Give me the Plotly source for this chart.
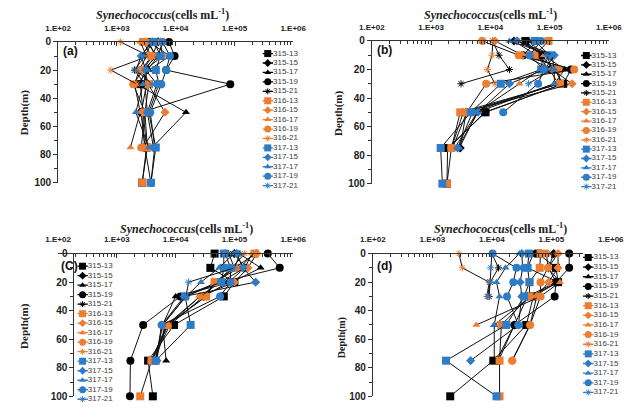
import plotly.graph_objects as go

# ---------------- data ----------------
DEPTHS = [0, 10, 20, 30, 50, 75, 100]
SERIES = ["315-13", "315-15", "315-17", "315-19", "315-21",
          "316-13", "316-15", "316-17", "316-19", "316-21",
          "317-13", "317-15", "317-17", "317-19", "317-21"]
X_TICK_VALS = [1e2, 1e3, 1e4, 1e5, 1e6]
X_TICK_TEXT = ["1.E+02", "1.E+03", "1.E+04", "1.E+05", "1.E+06"]
DEPTH_TICKS = [0, 20, 40, 60, 80, 100]
PANEL_LABELS = ["(a)", "(b)", "(C)", "(d)"]
N = None

# cells mL-1, one row per series, columns follow DEPTHS
VALUES_A = [
    [3.5e3, 4.5e3, 3.0e3, 2.5e3, 2.8e3, 3.2e3, 2.7e3],
    [5.0e3, 4.0e3, 2.8e3, 3.2e3, 2.6e3, 3.0e3, N],
    [3.5e3, 8.0e3, 3.5e3, 2.2e3, 1.5e4, 4.0e3, N],
    [7.7e3, 9.6e3, 6.9e3, 8.5e4, 2.6e3, 3.0e3, 3.8e3],
    [4.0e3, 3.0e3, 2.0e3, 3.0e3, 3.3e3, N, N],
    [2.8e3, 3.9e3, 2.6e3, 3.5e3, 3.0e3, 3.3e3, 2.7e3],
    [5.5e3, 6.0e3, 3.0e3, 3.4e3, 6.6e3, 2.8e3, N],
    [2.5e3, 3.2e3, 2.4e3, 2.0e3, 2.5e3, 1.7e3, N],
    [3.2e3, 4.8e3, 2.8e3, 1.9e3, 3.0e3, 2.6e3, N],
    [1.15e3, 3.5e3, 7.9e2, 2.2e3, N, N, N],
    [4.3e3, 5.5e3, 4.6e3, 5.2e3, 3.5e3, 4.6e3, 3.8e3],
    [4.0e3, 2.6e3, 3.1e3, 4.8e3, 3.3e3, 4.2e3, N],
    [6.0e3, 5.0e3, 3.3e3, 2.8e3, 2.1e3, 3.5e3, N],
    [6.0e3, 8.0e3, 6.9e3, 5.7e3, 3.7e3, 4.4e3, 3.8e3],
    [3.8e3, 2.6e3, 2.1e3, 4.0e3, N, N, N],
]
VALUES_B = [
    [3.9e4, 7.2e4, 1.2e5, 1.7e5, 8.3e3, 1.9e3, 1.85e3],
    [2.5e4, 6.0e4, 1.0e5, 1.4e5, 3.9e3, 3.1e3, N],
    [4.5e4, 8.0e4, 1.8e5, 1.2e5, 5.0e3, 2.8e3, N],
    [6.0e4, 3.6e4, 2.3e5, 1.7e5, 8.0e3, 2.0e3, N],
    [1.1e4, 1.4e4, 2.1e4, 3.2e3, N, N, N],
    [9.6e4, 5.6e4, 1.4e5, 1.5e5, 3.1e3, 2.2e3, 1.85e3],
    [1.2e4, 3.5e4, 1.1e5, 2.4e5, 3.5e3, 2.2e3, N],
    [3.0e4, 8.0e4, 7.0e4, 3.1e4, 6.0e3, 2.5e3, N],
    [7.3e3, 3.0e4, 2.6e5, 8.5e3, 4.0e3, 2.3e3, N],
    [1.1e4, 1.07e4, 8.9e3, 1.2e4, N, N, N],
    [5.6e4, 1.0e5, 7.2e4, 1.5e4, 4.7e3, 1.45e3, 1.55e3],
    [2.8e4, 1.2e5, 8.3e4, 2.1e4, 6.2e3, 2.8e3, N],
    [2.1e4, 1.1e5, 1.2e5, 1.2e5, 6.0e3, 3.0e3, N],
    [7.2e4, 4.6e4, 8.0e4, 6.4e4, 1.65e4, N, N],
    [2.9e4, 9.0e4, 1.1e5, 4.4e4, N, N, N],
]
VALUES_C = [
    [4.6e4, 3.9e4, 1.0e5, 6.6e4, 9.4e3, 3.4e3, 4.1e3],
    [1.0e5, 1.5e5, 8.0e4, 3.0e4, 8.0e3, 4.0e3, N],
    [1.2e5, 2.8e5, 9.0e4, 1.0e4, 6.0e3, 6.9e3, N],
    [3.7e5, 5.9e5, 6.0e4, 1.2e4, 2.8e3, 1.7e3, 1.67e3],
    [8.0e4, 1.0e5, 5.0e4, 1.5e4, 6.0e3, N, N],
    [2.2e5, 1.2e5, 4.6e4, 3.3e4, 7.3e3, 3.9e3, 2.5e3],
    [2.4e5, 1.7e5, 1.0e5, 2.6e4, 7.0e3, 4.5e3, N],
    [2.0e5, 1.5e5, 5.8e4, 2.6e4, 7.5e3, 3.8e3, N],
    [2.3e5, 1.0e5, 4.6e4, 3.3e4, 7.0e3, 3.9e3, N],
    [1.5e5, 9.0e4, 5.0e4, 2.8e4, N, N, N],
    [6.6e4, 6.6e4, 6.0e4, 1.45e4, 1.8e4, 4.6e3, N],
    [1.1e5, 1.4e5, 2.3e5, 1.4e4, 5.8e3, 4.8e3, N],
    [9.8e4, 5.5e4, 2.7e4, 1.5e4, 6.0e3, 4.5e3, N],
    [7.0e4, 8.6e4, 8.6e4, 5.7e4, 5.8e3, 4.6e3, N],
    [1.25e5, 1.0e5, 1.66e4, 1.5e4, N, N, N],
]
VALUES_D = [
    [6.0e4, 1.2e5, 1.3e5, 5.0e4, 3.8e4, 1.06e4, 2.0e3],
    [1.1e5, 9.0e4, 1.2e5, 4.0e4, 2.4e4, 1.2e4, N],
    [5.0e4, 4.0e4, 1.3e5, 4.5e4, 1.1e4, 1.1e4, N],
    [2.0e5, 2.0e5, 1.2e5, 1.14e5, 2.4e4, 1.3e4, N],
    [1.0e4, 1.3e4, 9.4e3, 9.0e3, N, N, N],
    [6.6e4, 6.4e4, 4.3e4, 4.3e4, 1.45e4, 1.35e4, 1.35e4],
    [1.3e5, 1.3e5, 9.0e4, 5.7e4, 4.4e4, 2.2e4, N],
    [1.3e5, 8.8e4, 1.4e5, 6.6e4, 5.5e3, N, N],
    [8.3e4, 8.8e4, 6.6e4, 6.6e4, 4.4e4, 2.2e4, N],
    [2.8e3, 3.2e3, 9.0e3, 8.3e3, N, N, N],
    [4.2e4, 4.0e4, 4.3e4, 3.5e4, 1.75e4, 1.7e3, 1.2e4],
    [3.2e4, 3.3e4, 3.0e4, 3.2e4, 2.8e4, 4.4e3, N],
    [2.9e4, 1.7e4, 1.2e4, 1.35e4, 1.1e4, N, N],
    [1.03e4, 2.6e4, 2.3e4, 1.8e4, 2.8e4, N, N],
    [1.0e4, 9.6e3, 9.4e3, 8.5e3, N, N, N],
]
PANEL_VALUES = [VALUES_A, VALUES_B, VALUES_C, VALUES_D]

# ---------------- styles ----------------
W, H = 642, 413
COLORS = {"315": "#000000", "316": "#ED7D31", "317": "#2E7CC6"}
SYMBOLS = {"13": ("square", 8), "15": ("diamond", 7), "17": ("triangle-up", 7),
           "19": ("circle", 8), "21": ("asterisk-open", 6)}
LEG_W = 40


def fx(px):
    return min(max(px / W, 0), 1)


def fy(py):
    return min(max(1 - py / H, 0), 1)


# panel layout in pixels
PANELS = [
    dict(x0=47, x1=292, yt=37, yb=182, ypos=47, lx=260, ly0=49, ly1=185,
         tx=156, ty=9, dx=12, dy=110, dsize=11, plx=50, ply=46),
    dict(x0=374, x1=621, yt=36, yb=183, ypos=374, lx=592, ly0=51, ly1=186,
         tx=498, ty=9, dx=340, dy=110, dsize=11, plx=377, ply=45),
    dict(x0=47, x1=292, yt=255, yb=402, ypos=63, lx=67, ly0=268, ly1=405,
         tx=181, ty=229, dx=12, dy=330, dsize=11, plx=48, ply=268),
    dict(x0=375, x1=623, yt=255, yb=402, ypos=375, lx=594, ly0=259, ly1=398,
         tx=508, ty=229, dx=343, dy=342, dsize=10, plx=377, ply=268),
]

fig = go.Figure()
layout = dict(width=W, height=H, margin=dict(l=0, r=0, t=0, b=0),
              paper_bgcolor="white", plot_bgcolor="white", showlegend=False)
annotations = []

minor_vals = [m * 10 ** e for e in range(2, 6) for m in range(2, 10)]
tick_font = dict(family="Liberation Sans", size=8, color="#222222", weight="bold")

for i, p in enumerate(PANELS):
    n = i + 1
    xa = "x" if n == 1 else f"x{n}"
    ya = "y" if n == 1 else f"y{n}"
    sfx = "" if n == 1 else str(n)
    vals = PANEL_VALUES[i]
    for name, row in zip(SERIES, vals):
        cruise, st = name.split("-")
        sym, size = SYMBOLS[st]
        col = COLORS[cruise]
        xs = [v for v in row if v is not None]
        ys = [d for d, v in zip(DEPTHS, row) if v is not None]
        fig.add_trace(go.Scatter(
            x=xs, y=ys, mode="lines+markers", name=name, xaxis=xa, yaxis=ya,
            line=dict(color="#111111", width=1), cliponaxis=False,
            marker=dict(symbol=sym, size=size, color=col,
                        line=dict(width=1 if st == "21" else 0, color=col)),
            showlegend=False))

    layout["xaxis" + sfx] = dict(
        domain=[fx(p["x0"]), fx(p["x1"])], type="log", range=[2, 6], side="top",
        anchor=ya, showline=True, linecolor="#333333", linewidth=1,
        ticks="inside", ticklen=4, tickcolor="#333333", ticklabelstandoff=7,
        tickvals=X_TICK_VALS, ticktext=X_TICK_TEXT, tickfont=tick_font,
        minor=dict(tickvals=minor_vals, ticks="inside", ticklen=3, tickcolor="#333333"),
        showgrid=False, zeroline=False, fixedrange=True)
    yax = dict(
        domain=[fy(p["yb"]), fy(p["yt"])], range=[100, 0],
        showline=True, linecolor="#333333", linewidth=1,
        ticks="outside", ticklen=4, tickcolor="#333333",
        tickvals=DEPTH_TICKS, tickfont=dict(family="Liberation Sans", size=10,
                                            color="#222222", weight="bold"),
        minor=dict(dtick=10, ticks="outside", ticklen=3, tickcolor="#333333"),
        showgrid=False, zeroline=False, fixedrange=True)
    if p["ypos"] != p["x0"]:
        yax.update(anchor="free", position=fx(p["ypos"]))
    else:
        yax.update(anchor=xa)
    layout["yaxis" + sfx] = yax

    # manual legend in its own axes
    ln = 4 + n
    k = len(SERIES)
    sp = (p["ly1"] - p["ly0"]) / (k - 1)
    layout[f"xaxis{ln}"] = dict(domain=[fx(p["lx"]), fx(p["lx"] + LEG_W)],
                                range=[0, LEG_W],
                                visible=False, fixedrange=True, anchor=f"y{ln}")
    layout[f"yaxis{ln}"] = dict(domain=[fy(p["ly1"] + sp / 2), fy(p["ly0"] - sp / 2)],
                                range=[k - 0.5, -0.5], visible=False, fixedrange=True,
                                anchor=f"x{ln}")
    for j, name in enumerate(SERIES):
        cruise, st = name.split("-")
        sym, size = SYMBOLS[st]
        col = COLORS[cruise]
        fig.add_trace(go.Scatter(
            x=[0, 11], y=[j, j], mode="lines", xaxis=f"x{ln}", yaxis=f"y{ln}",
            line=dict(color=col, width=1.3), showlegend=False, hoverinfo="skip"))
        fig.add_trace(go.Scatter(
            x=[5.5], y=[j], mode="markers", xaxis=f"x{ln}", yaxis=f"y{ln}",
            cliponaxis=False,
            marker=dict(symbol=sym, size=size - 1, color=col,
                        line=dict(width=1 if st == "21" else 0, color=col)),
            showlegend=False, hoverinfo="skip"))
        fig.add_trace(go.Scatter(
            x=[11], y=[j], mode="text", xaxis=f"x{ln}", yaxis=f"y{ln}",
            cliponaxis=False, text=[name], textposition="middle right",
            textfont=dict(family="Liberation Sans", size=8, color="#404040"),
            showlegend=False, hoverinfo="skip"))

    annotations.append(dict(
        x=fx(p["tx"]), y=fy(p["ty"]), xref="paper", yref="paper",
        text="<i>Synechococcus</i>(cells mL<sup>-1</sup>)", showarrow=False,
        font=dict(family="Liberation Serif", size=12, color="#222222", weight="bold"),
        xanchor="center", yanchor="middle"))
    annotations.append(dict(
        x=fx(p["dx"]), y=fy(p["dy"]), xref="paper", yref="paper",
        text="Depth(m)", textangle=-90, showarrow=False,
        font=dict(family="Liberation Serif", size=p["dsize"], color="#222222",
                  weight="bold"),
        xanchor="center", yanchor="middle"))
    annotations.append(dict(
        x=fx(p["plx"]), y=fy(p["ply"]), xref="paper", yref="paper",
        text=PANEL_LABELS[i], showarrow=False,
        font=dict(family="Liberation Sans", size=12, color="#111111", weight="bold"),
        xanchor="left", yanchor="middle"))

layout["annotations"] = annotations
fig.update_layout(**layout)
fig.write_html("out.html")
